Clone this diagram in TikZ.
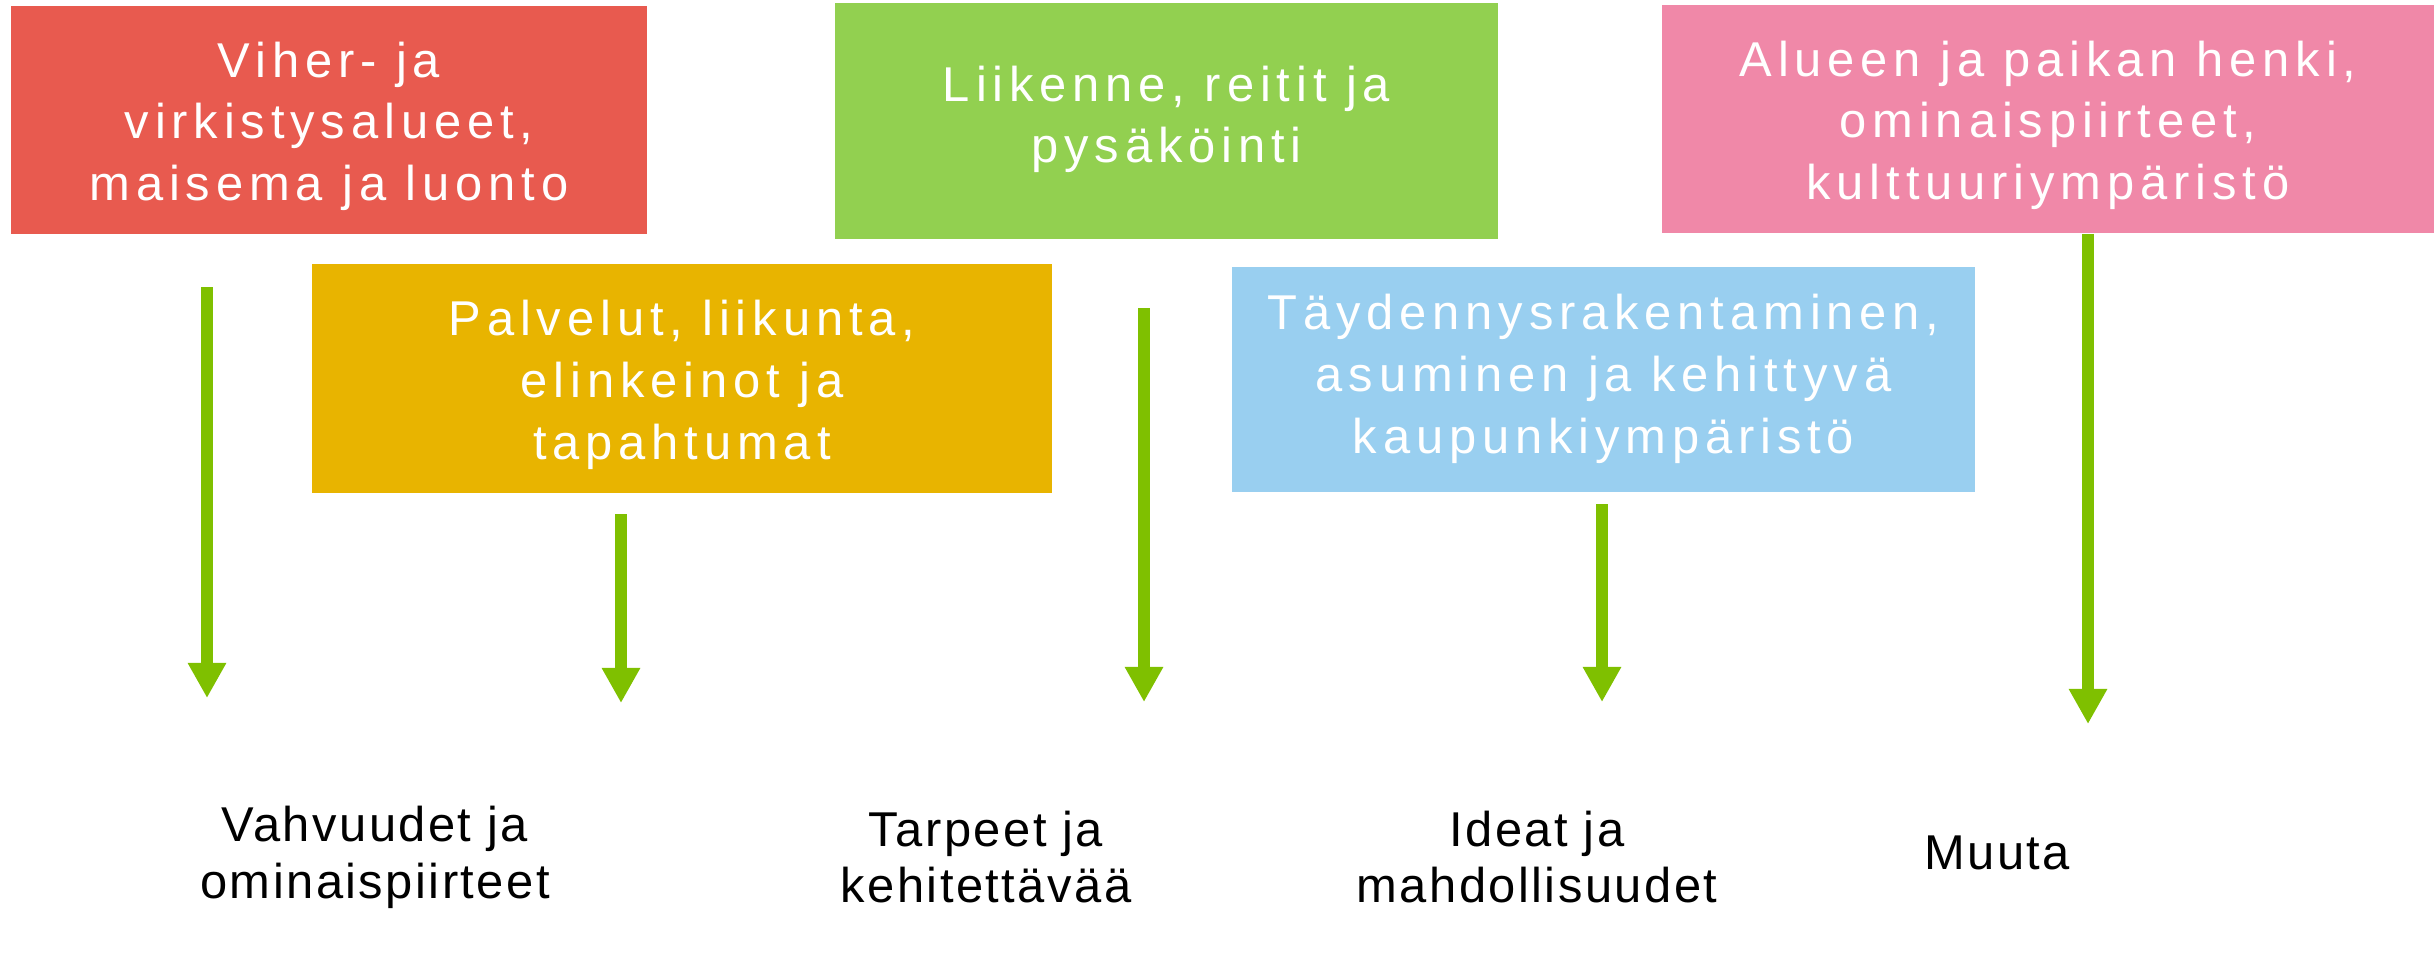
\documentclass[tikz,border=0pt]{standalone}
\usepackage{fontspec}
\setmainfont{Liberation Sans}
\newfontfamily\catfont[LetterSpace=12]{Liberation Sans}
\newfontfamily\headfont[LetterSpace=5]{Liberation Sans}
\usetikzlibrary{arrows.meta}
\definecolor{catred}{HTML}{E85A4F}
\definecolor{catorange}{HTML}{E8B400}
\definecolor{catgreen}{HTML}{92D050}
\definecolor{catblue}{HTML}{99CFF0}
\definecolor{catpink}{HTML}{F088A8}
\definecolor{arrowgreen}{HTML}{7FC000}
\begin{document}
\begin{tikzpicture}[
   x={(0.01cm,0)}, y={(0,-0.01cm)},
   cat/.style={rectangle, inner sep=0pt, text=white, align=center,
      text height=47.3pt, text depth=1.5pt,
      font=\catfont\fontsize{13.9}{17.5}\selectfont},
   cattwo/.style={cat, text height=25.3pt},
   colhead/.style={align=center, inner sep=0pt,
      font=\headfont\fontsize{13.9}{16.2}\selectfont},
   arrow/.style={-{Triangle[width=0.36cm,length=0.35cm]}, line width=0.12cm, draw=arrowgreen}
]
\useasboundingbox (0,0) rectangle (2434,960);
% Nodes
\node[cat, fill=catred, minimum width=6.36cm, minimum height=2.28cm] (viher) at (329,120)
   {Viher- ja\\virkistysalueet,\\maisema ja luonto};
\node[cattwo, fill=catgreen, minimum width=6.63cm, minimum height=2.36cm] (liikenne) at (1166.5,121)
   {Liikenne, reitit ja\\pysäköinti};
\node[cat, fill=catpink, minimum width=7.72cm, minimum height=2.28cm] (henki) at (2048,119)
   {Alueen ja paikan henki,\\ominaispiirteet,\\kulttuuriympäristö};
\node[cat, fill=catorange, minimum width=7.40cm, minimum height=2.29cm] (palvelut) at (682,378.5)
   {Palvelut, liikunta,\\elinkeinot ja\\tapahtumat};
\node[cat, fill=catblue, minimum width=7.43cm, minimum height=2.25cm,
      text height=43.3pt] (taydennys) at (1603.5,379.5)
   {Täydennysrakentaminen,\\asuminen ja kehittyvä\\kaupunkiympäristö};

\node[colhead] (vahvuudet) at (375,857) {Vahvuudet ja\\ominaispiirteet};
\node[colhead] (tarpeet) at (986,857) {Tarpeet ja\\kehitettävää};
\node[colhead] (ideat) at (1537,857) {Ideat ja\\mahdollisuudet};
\node[colhead] (muuta) at (1997,853) {Muuta};

% Edges
\coordinate (a1) at (207,287);  \coordinate (b1) at (207,698);
\coordinate (a2) at (621,514);  \coordinate (b2) at (621,703);
\coordinate (a3) at (1144,308); \coordinate (b3) at (1144,702);
\coordinate (a4) at (1602,504); \coordinate (b4) at (1602,702);
\coordinate (b5) at (2088,724);
\draw[arrow] (a1) -- (b1);
\draw[arrow] (a2) -- (b2);
\draw[arrow] (a3) -- (b3);
\draw[arrow] (a4) -- (b4);
\draw[arrow] (henki.south -| b5) -- (b5);

\end{tikzpicture}
\end{document}
